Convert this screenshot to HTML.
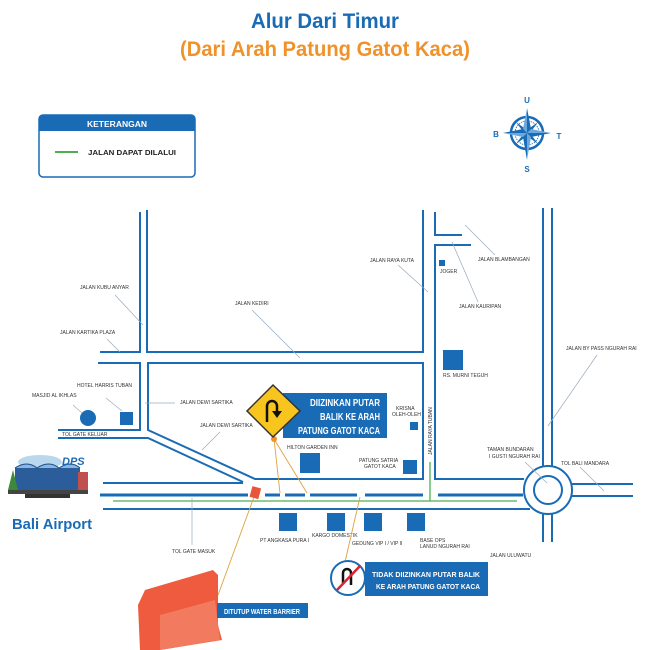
<!DOCTYPE html>
<html><head><meta charset="utf-8"><style>
html,body{margin:0;padding:0;background:#fff;}
svg{display:block;}
text{font-family:"Liberation Sans",sans-serif;}
.l{font-size:5px;fill:#333;}
.b{font-weight:bold;fill:#fff;}
</style></head><body>
<svg width="650" height="650" viewBox="0 0 650 650" xmlns="http://www.w3.org/2000/svg">
<rect width="650" height="650" fill="#fff"/>
<text x="325" y="28" text-anchor="middle" font-size="21" font-weight="bold" fill="#1a6bb5" textLength="148" lengthAdjust="spacingAndGlyphs">Alur Dari Timur</text>
<text x="325" y="56" text-anchor="middle" font-size="21" font-weight="bold" fill="#f0922a" textLength="290" lengthAdjust="spacingAndGlyphs">(Dari Arah Patung Gatot Kaca)</text>
<rect x="39" y="115" width="156" height="62" rx="4" fill="#fff" stroke="#1a6bb5" stroke-width="1.5"/>
<path d="M39 131 V119 a4 4 0 0 1 4 -4 H191 a4 4 0 0 1 4 4 V131 Z" fill="#1a6bb5"/>
<text x="117" y="127" text-anchor="middle" class="b" font-size="8" textLength="60" lengthAdjust="spacingAndGlyphs">KETERANGAN</text>
<line x1="55" y1="152" x2="78" y2="152" stroke="#4caf50" stroke-width="2"/>
<text x="88" y="155" font-size="7.5" font-weight="bold" fill="#222" textLength="88" lengthAdjust="spacingAndGlyphs">JALAN DAPAT DILALUI</text>
<g transform="translate(527,133)">
<circle r="16" fill="none" stroke="#1a6bb5" stroke-width="2.5"/>
<circle r="12" fill="none" stroke="#1a6bb5" stroke-width="0.8" stroke-dasharray="1.5 1"/>
<polygon points="-11,-11 0,-3 11,-11 3,0 11,11 0,3 -11,11 -3,0" fill="#1a6bb5"/>
<polygon points="0,-25 4,-4 0,0" fill="#1a6bb5"/><polygon points="0,-25 -4,-4 0,0" fill="#6aa9dd"/>
<polygon points="24,0 4,4 0,0" fill="#1a6bb5"/><polygon points="24,0 4,-4 0,0" fill="#6aa9dd"/>
<polygon points="0,27 -4,4 0,0" fill="#1a6bb5"/><polygon points="0,27 4,4 0,0" fill="#6aa9dd"/>
<polygon points="-24,0 -4,-4 0,0" fill="#1a6bb5"/><polygon points="-24,0 -4,4 0,0" fill="#6aa9dd"/>
</g>
<text x="527" y="103" text-anchor="middle" font-size="8" font-weight="bold" fill="#1a6bb5">U</text>
<text x="527" y="172" text-anchor="middle" font-size="8" font-weight="bold" fill="#1a6bb5">S</text>
<text x="496" y="137" text-anchor="middle" font-size="8" font-weight="bold" fill="#1a6bb5">B</text>
<text x="559" y="139" text-anchor="middle" font-size="8" font-weight="bold" fill="#1a6bb5">T</text>
<g stroke="#1a6bb5" stroke-width="2" fill="none">
<path d="M140 212 V352 H100"/>
<path d="M147 210 V352 H423 V210"/>
<path d="M98 363 H140 V430 H58"/>
<path d="M148 363 H423 V479 H255 L148 430 Z"/>
<path d="M58 438 H148 L243 482"/>
<path d="M435 212 V235 H462"/>
<path d="M471 245 H435 V479 H524"/>
<path d="M543 208 V466"/><path d="M552 208 V466"/>
<path d="M543 514 V542"/><path d="M552 514 V542"/>
<path d="M572 484 H633"/><path d="M572 496 H633"/>
<path d="M103 483 H243"/>
<path d="M103 509 H530"/>
<circle cx="548" cy="490" r="24"/>
<circle cx="548" cy="490" r="14"/>
</g>
<g stroke="#1a6bb5" stroke-width="3">
<path d="M100 495 H248 M265 495 H280 M285 495 H305 M310 495 H357 M365 495 H423 M438 495 H523"/>
</g>
<path d="M113 501 H517 M430 462 V501" stroke="#4caf50" stroke-width="1.3" fill="none"/>
<g fill="#1a6bb5">
<circle cx="88" cy="418" r="8"/>
<rect x="120" y="412" width="13" height="13"/>
<rect x="300" y="453" width="20" height="20"/>
<rect x="410" y="422" width="8" height="8"/>
<rect x="403" y="460" width="14" height="14"/>
<rect x="439" y="260" width="6" height="6"/>
<rect x="443" y="350" width="20" height="20"/>
<rect x="279" y="513" width="18" height="18"/>
<rect x="327" y="513" width="18" height="18"/>
<rect x="364" y="513" width="18" height="18"/>
<rect x="407" y="513" width="18" height="18"/>
</g>
<g stroke="#9ab" stroke-width="0.7">
<line x1="115" y1="295" x2="143" y2="325"/>
<line x1="107" y1="339" x2="120" y2="352"/>
<line x1="252" y1="310" x2="300" y2="358"/>
<line x1="73" y1="405" x2="82" y2="413"/>
<line x1="106" y1="398" x2="122" y2="411"/>
<line x1="145" y1="403" x2="175" y2="403"/>
<line x1="220" y1="432" x2="202" y2="450"/>
<line x1="192" y1="498" x2="192" y2="545"/>
<line x1="398" y1="265" x2="428" y2="292"/>
<line x1="465" y1="225" x2="495" y2="255"/>
<line x1="452" y1="242" x2="478" y2="302"/>
<line x1="597" y1="355" x2="548" y2="426"/>
<line x1="525" y1="462" x2="547" y2="483"/>
<line x1="580" y1="467" x2="604" y2="491"/>
</g>
<g class="l">
<text x="80" y="289">JALAN KUBU ANYAR</text>
<text x="60" y="334">JALAN KARTIKA PLAZA</text>
<text x="235" y="305">JALAN KEDIRI</text>
<text x="77" y="387">HOTEL HARRIS TUBAN</text>
<text x="32" y="397">MASJID AL IKHLAS</text>
<text x="62" y="436">TOL GATE KELUAR</text>
<text x="180" y="404">JALAN DEWI SARTIKA</text>
<text x="200" y="427">JALAN DEWI SARTIKA</text>
<text x="287" y="449">HILTON GARDEN INN</text>
<text x="396" y="410">KRISNA</text>
<text x="392" y="416">OLEH-OLEH</text>
<text x="359" y="462">PATUNG SATRIA</text>
<text x="364" y="468">GATOT KACA</text>
<text x="370" y="262">JALAN RAYA KUTA</text>
<text x="440" y="273">JOGER</text>
<text x="478" y="261">JALAN BLAMBANGAN</text>
<text x="459" y="308">JALAN KAURIPAN</text>
<text x="443" y="377">RS. MURNI TEGUH</text>
<text x="566" y="350">JALAN BY PASS NGURAH RAI</text>
<text x="487" y="451">TAMAN BUNDARAN</text>
<text x="489" y="458">I GUSTI NGURAH RAI</text>
<text x="561" y="465">TOL BALI MANDARA</text>
<text x="172" y="553">TOL GATE MASUK</text>
<text x="260" y="542">PT ANGKASA PURA I</text>
<text x="312" y="537">KARGO DOMESTIK</text>
<text x="352" y="545">GEDUNG VIP I / VIP II</text>
<text x="420" y="542">BASE OPS</text>
<text x="420" y="548">LANUD NGURAH RAI</text>
<text x="490" y="557">JALAN ULUWATU</text>
<text transform="translate(432,455) rotate(-90)">JALAN RAYA TUBAN</text>
</g>
<g stroke="#e0a040" stroke-width="0.9">
<line x1="274" y1="439" x2="280" y2="493"/>
<line x1="274" y1="439" x2="307" y2="493"/>
<line x1="254" y1="497" x2="218" y2="595"/>
<line x1="360" y1="497" x2="345" y2="562"/>
</g>
<circle cx="274" cy="439" r="3" fill="#f0922a"/>
<rect x="251" y="487" width="9" height="11" fill="#e8553a" transform="rotate(15 255 492)"/>
<rect x="283" y="393" width="104" height="45" fill="#1a6bb5"/>
<text x="380" y="406" text-anchor="end" class="b" font-size="10" textLength="70" lengthAdjust="spacingAndGlyphs">DIIZINKAN PUTAR</text>
<text x="380" y="420" text-anchor="end" class="b" font-size="10" textLength="60" lengthAdjust="spacingAndGlyphs">BALIK KE ARAH</text>
<text x="380" y="434" text-anchor="end" class="b" font-size="10" textLength="82" lengthAdjust="spacingAndGlyphs">PATUNG GATOT KACA</text>
<polygon points="273,385 300,411 273,437 247,411" fill="#f7c51e" stroke="#333" stroke-width="1.5"/>
<path d="M267 422 V406 a5 5 0 0 1 10 0 V412" stroke="#111" stroke-width="2.5" fill="none"/>
<polygon points="272,411 282,411 277,418" fill="#111"/>
<rect x="365" y="562" width="123" height="34" fill="#1a6bb5"/>
<text x="480" y="577" text-anchor="end" class="b" font-size="7.5" textLength="108" lengthAdjust="spacingAndGlyphs">TIDAK DIIZINKAN PUTAR BALIK</text>
<text x="480" y="589" text-anchor="end" class="b" font-size="7.5" textLength="104" lengthAdjust="spacingAndGlyphs">KE ARAH PATUNG GATOT KACA</text>
<circle cx="348" cy="578" r="17" fill="#fff" stroke="#1a6bb5" stroke-width="2"/>
<path d="M343 583 V573 a4 4 0 0 1 8 0 V585" stroke="#111" stroke-width="2.5" fill="none"/>
<line x1="337" y1="590" x2="360" y2="566" stroke="#d23" stroke-width="2.5"/>
<polygon points="145,590 213,570 218,575 218,625 222,640 160,650 140,650 138,605" fill="#ee5b3e"/>
<polygon points="160,615 215,600 220,640 160,650" fill="#f27a5f"/>
<rect x="217" y="603" width="91" height="15" fill="#1a6bb5"/>
<text x="262" y="614" text-anchor="middle" class="b" font-size="7.5" textLength="76" lengthAdjust="spacingAndGlyphs">DITUTUP WATER BARRIER</text>
<g>
<ellipse cx="40" cy="462" rx="22" ry="7" fill="#b9d8ee"/>
<rect x="15" y="468" width="65" height="22" fill="#2a5d9a"/>
<path d="M15 468 q12 -8 22 0 q12 -8 22 0 q12 -8 21 0" fill="#8cb6de" stroke="#1a4f8c"/>
<rect x="78" y="472" width="10" height="18" fill="#c0504d"/>
<polygon points="8,490 13,470 18,490" fill="#3a8a3a"/>
<rect x="8" y="490" width="80" height="4" fill="#444"/>
<rect x="25" y="494" width="45" height="4" fill="#333"/>
<text x="62" y="465" font-size="11" font-weight="bold" font-style="italic" fill="#1a6bb5">DPS</text>
</g>
<text x="12" y="529" font-size="15" font-weight="bold" fill="#1a6bb5" textLength="80" lengthAdjust="spacingAndGlyphs">Bali Airport</text>
</svg>
</body></html>
